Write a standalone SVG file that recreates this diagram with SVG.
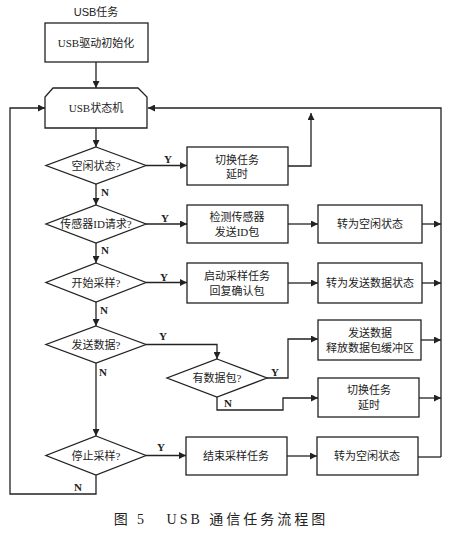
<svg xmlns="http://www.w3.org/2000/svg" width="450" height="539" viewBox="0 0 450 539">
<defs>
<marker id="ah" viewBox="0 0 10 10" refX="10" refY="5" markerWidth="7" markerHeight="7" markerUnits="userSpaceOnUse" orient="auto">
<path d="M0,0 L10,5 L0,10 z" fill="#222"/>
</marker>
<style>
.s{fill:#fff;stroke:#222;stroke-width:1.3}
.c{fill:none;stroke:#222;stroke-width:1.3}
.a{marker-end:url(#ah)}
text{font-family:"Liberation Serif","Noto Sans CJK SC",serif;font-size:11px;fill:#222;text-anchor:middle}
.l{font-size:11px;font-weight:bold}
.cap{font-size:14px;letter-spacing:3px;white-space:pre}
</style>
</defs>
<rect width="450" height="539" fill="#fff"/>
<g id="title"><text x="96" y="16" style="font-family:'Liberation Sans','Noto Sans CJK SC',sans-serif">USB任务</text></g>
<g id="init"><rect class="s" x="45" y="23" width="103" height="39"/><text x="96" y="47">USB驱动初始化</text></g>
<g id="sm"><path class="s" d="M45,128 L45,97 L53,88 L138,88 L147,97 L147,128 Z"/><text x="96" y="112">USB状态机</text></g>
<g id="d1"><path class="s" d="M96,147 L146,165.5 L96,184 L46,165.5 Z"/><text x="96" y="169.5">空闲状态?</text></g>
<g id="b1"><rect class="s" x="187" y="147" width="101" height="38"/><text x="237" y="164">切换任务</text><text x="237" y="178">延时</text></g>
<g id="d2"><path class="s" d="M96,205 L146,224 L96,243 L46,224 Z"/><text x="96" y="228">传感器ID请求?</text></g>
<g id="b2"><rect class="s" x="187" y="205" width="101" height="38"/><text x="237" y="221">检测传感器</text><text x="237" y="236">发送ID包</text></g>
<g id="b3"><rect class="s" x="318" y="205" width="104" height="38"/><text x="370" y="228">转为空闲状态</text></g>
<g id="d3"><path class="s" d="M96,263 L146,282.5 L96,302 L46,282.5 Z"/><text x="96" y="286.5">开始采样?</text></g>
<g id="b4"><rect class="s" x="187" y="263" width="101" height="40"/><text x="237" y="280">启动采样任务</text><text x="237" y="295">回复确认包</text></g>
<g id="b5"><rect class="s" x="318" y="263" width="104" height="40"/><text x="370" y="287">转为发送数据状态</text></g>
<g id="d4"><path class="s" d="M96,326 L146,344.5 L96,363 L46,344.5 Z"/><text x="96" y="348.5">发送数据?</text></g>
<g id="d5"><path class="s" d="M217,359 L267,378 L217,397 L167,378 Z"/><text x="217" y="382">有数据包?</text></g>
<g id="b6"><rect class="s" x="318" y="320" width="103" height="40"/><text x="370" y="337">发送数据</text><text x="370" y="352">释放数据包缓冲区</text></g>
<g id="b7"><rect class="s" x="318" y="378" width="101" height="39"/><text x="369" y="394">切换任务</text><text x="369" y="409">延时</text></g>
<g id="d6"><path class="s" d="M96,436 L146,455.5 L96,475 L46,455.5 Z"/><text x="96" y="459.5">停止采样?</text></g>
<g id="b8"><rect class="s" x="186" y="437" width="101" height="38"/><text x="236" y="460">结束采样任务</text></g>
<g id="b9"><rect class="s" x="317" y="437" width="101" height="38"/><text x="367" y="460">转为空闲状态</text></g>
<g id="connectors">
<path class="c a" d="M96,62 L96,88"/>
<path class="c a" d="M96,128 L96,147"/>
<path class="c a" d="M146,165.5 L187,165.5"/>
<path class="c a" d="M288,166 L311,166 L311,113"/>
<path class="c a" d="M441,457 L441,108 L148,108"/>
<path class="c a" d="M96,184 L96,205"/>
<path class="c a" d="M146,224 L187,224"/>
<path class="c a" d="M288,224 L318,224"/>
<path class="c a" d="M422,224 L441,224"/>
<path class="c a" d="M96,243 L96,263"/>
<path class="c a" d="M146,282.5 L187,282.5"/>
<path class="c a" d="M288,283 L318,283"/>
<path class="c a" d="M422,283 L441,283"/>
<path class="c a" d="M96,302 L96,326"/>
<path class="c a" d="M146,344.5 L217,344.5 L217,359"/>
<path class="c a" d="M267,378 L288,378 L288,339 L318,339"/>
<path class="c a" d="M421,340 L441,340"/>
<path class="c a" d="M217,397 L217,410 L283,410 L283,398 L318,398"/>
<path class="c a" d="M419,398 L441,398"/>
<path class="c a" d="M96,363 L96,436"/>
<path class="c a" d="M146,455.5 L186,455.5"/>
<path class="c a" d="M287,456 L317,456"/>
<path class="c" d="M418,457 L441,457"/>
<path class="c a" d="M96,475 L96,494 L10,494 L10,108 L45,108"/>
<g class="lbl">
<text class="l" x="168" y="163">Y</text>
<text class="l" x="105" y="196">N</text>
<text class="l" x="165" y="222">Y</text>
<text class="l" x="105" y="254">N</text>
<text class="l" x="164" y="281">Y</text>
<text class="l" x="104" y="314">N</text>
<text class="l" x="163" y="340">Y</text>
<text class="l" x="103" y="376">N</text>
<text class="l" x="275" y="376">Y</text>
<text class="l" x="228" y="407">N</text>
<text class="l" x="161" y="451">Y</text>
<text class="l" x="78" y="491">N</text>
</g>
</g>
<g id="caption"><text class="cap" x="221" y="524">图 5   USB 通信任务流程图</text></g>
</svg>
